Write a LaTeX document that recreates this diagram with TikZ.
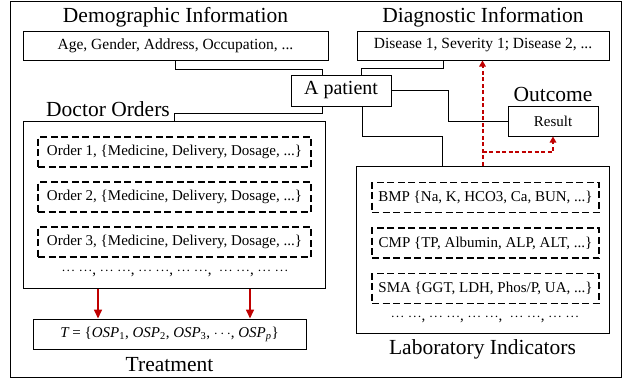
\documentclass[tikz,border=0pt]{standalone}
\usepackage{fontspec}
\setmainfont{Liberation Serif}
\usetikzlibrary{arrows.meta}
\definecolor{darkred}{RGB}{192,0,0}
\newcommand{\mdots}{$\cdotp\mkern-2mu\cdotp\mkern-2mu\cdotp$}

\tikzset{
	box/.style={draw, line width=1pt, inner sep=0pt, font=\fontsize{15.5}{18}\selectfont},
	dashbox/.style={draw, dash pattern=on 7pt off 3.5pt, line width=1.2pt, inner sep=0pt,
		minimum height=30, font=\fontsize{15}{18}\selectfont},
	title/.style={font=\fontsize{21.5}{24}\selectfont},
	dots/.style={font=\fontsize{15}{18}\selectfont},
	link/.style={line width=0.9pt},
	redarrow/.style={draw=darkred, line width=1.6pt, -{Triangle[length=9pt,width=8pt]}},
	reddash/.style={draw=darkred, line width=2pt, dash pattern=on 4pt off 2.5pt, -{Triangle[length=6pt,width=6.5pt]}}
}

\begin{document}
\begin{tikzpicture}[x=1pt,y=-1pt]
	\useasboundingbox (0,0) rectangle (631,384);
	\draw[line width=1.2pt] (10.5,1.5) rectangle (621.5,377.5);
	% upper row
	\node[box, minimum width=305, minimum height=29, label={[title]above:Demographic Information}] (demo) at (175.5,45.5) {Age, Gender, Address, Occupation, ...};
	\node[box, minimum width=252, minimum height=29, label={[title]above:Diagnostic Information}] (diag) at (483,45.5) {Disease 1, Severity 1; Disease 2, ...};
	\node[box, minimum width=100, minimum height=31, font=\fontsize{20}{24}\selectfont] (patient) at (341,90.5) {A patient};
	\node[box, minimum width=90, minimum height=30, font=\fontsize{15}{18}\selectfont, label={[title]above:Outcome}] (result) at (553,121) {Result};
	% doctor orders
	\node[box, minimum width=302, minimum height=167, label={[title,xshift=-66]above:Doctor Orders}] (doctor) at (174,204.5) {};
	\foreach \n/\y in {1/152,2/197,3/242}
		\node[dashbox, minimum width=273] (order\n) at (174.5,\y) {Order \n, \{Medicine, Delivery, Dosage, ...\}};
	\node[dots] (odots) at (175,272) {\mdots{} \mdots, \mdots{} \mdots, \mdots{} \mdots, \mdots{} \mdots,\enspace\mdots{} \mdots, \mdots{} \mdots};
	\node[box, minimum width=273, minimum height=30, font=\fontsize{15}{18}\selectfont, label={[title,label distance=4pt]below:Treatment}] (treat) at (169.5,334)
		{{\itshape T} = \{{\itshape OSP}\textsubscript{1}, {\itshape OSP}\textsubscript{2}, {\itshape OSP}\textsubscript{3}, $\cdots$, {\itshape OSP}\textsubscript{\itshape p}\}};
	% laboratory indicators
	\node[box, minimum width=253, minimum height=167, label={[title,label distance=3pt]below:Laboratory Indicators}] (lab) at (482.5,249.5) {};
	\foreach \n/\y/\txt in {1/197.5/{BMP \{Na, K, HCO3, Ca, BUN, ...\}},
			2/243/{CMP \{TP, Albumin, ALP, ALT, ...\}},
			3/288.5/{SMA \{GGT, LDH, Phos/P, UA, ...\}}}
		\node[dashbox, minimum width=227] (test\n) at (485.5,\y) {\txt};
	\node[dots] (ldots) at (485,318) {\mdots{} \mdots, \mdots{} \mdots, \mdots{} \mdots,\enspace\mdots{} \mdots, \mdots{} \mdots};
	% links
	\draw[link] (demo.south) -- ++(0,9) -| ([xshift=-19pt]patient.north);
	\draw[link] ([xshift=-19pt]patient.south) -- ++(0,7) -| (doctor.north);
	\draw[link] ([xshift=20pt]patient.north) -- ++(0,-6) -| ([xshift=-40pt]diag.south);
	\draw[link] (patient.east) -- ++(57,0) |- (result.west);
	\draw[link] ([xshift=21pt]patient.south) -- ++(0,30) -| ([xshift=-40pt]lab.north);
	\draw[redarrow] ([xshift=-76pt]doctor.south) -- ([xshift=-76pt]doctor.south |- treat.north);
	\draw[redarrow] ([xshift=76pt]doctor.south) -- ([xshift=76pt]doctor.south |- treat.north);
	\draw[reddash] (lab.north) -- (lab.north |- diag.south);
	\draw[reddash] ([yshift=14pt]lab.north) -| (result.south);
\end{tikzpicture}
\end{document}
